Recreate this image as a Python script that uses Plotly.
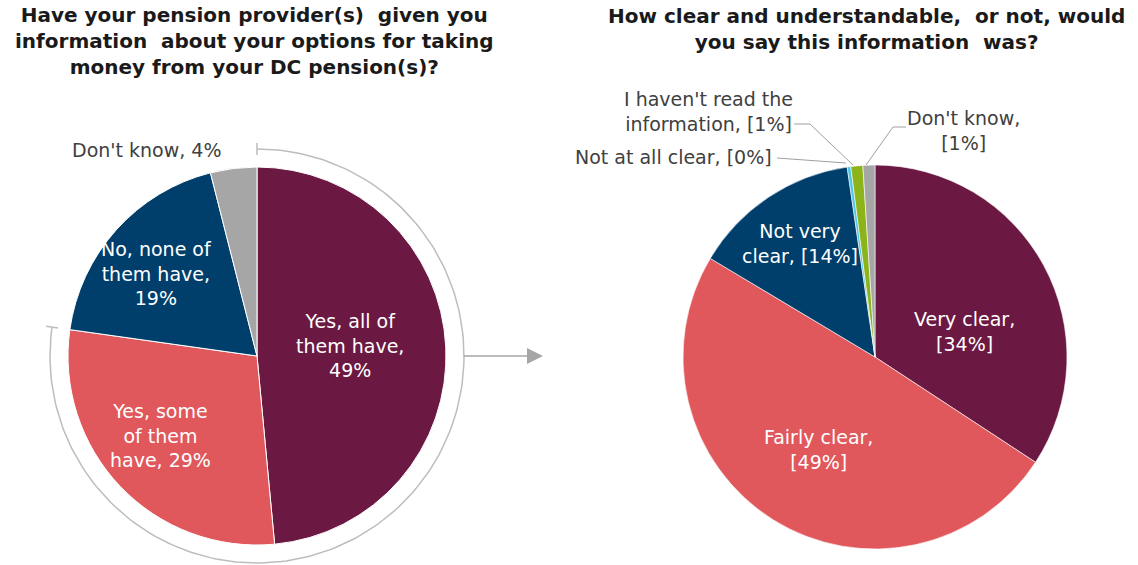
import numpy as np
import plotly.graph_objects as go

# Left question: was information provided
left_labels = ["Yes, all of<br>them have,", "Yes, some<br>of them<br>have,", "No, none of<br>them have,", "Don't know,"]
left_values = [49, 29, 19, 4]
# Right question: clarity of the information
right_labels = ["Very clear,", "Fairly clear,", "Not very<br>clear,", "Not at all clear,",
                "I haven't read the<br>information,", "Don't know,"]
right_values = [34, 49, 14, 0.3, 1, 1]

left_colors = ["#6B1942", "#E0585C", "#003F6C", "#A6A6A6"]
right_colors = ["#6B1942", "#E0585C", "#003F6C", "#4FC6E6", "#8DB31A", "#A6A6A6"]

W, H = 1138, 565
LCX, LCY, LR = 257, 356, 189
RCX, RCY, RR = 875, 357, 192


def dom(cx, cy, r):
    return dict(x=[(cx - r) / W, (cx + r) / W], y=[1 - (cy + r) / H, 1 - (cy - r) / H])


fig = go.Figure()
fig.add_trace(go.Pie(values=left_values, labels=["a", "b", "c", "d"], sort=False, direction="clockwise",
                     rotation=0, domain=dom(LCX, LCY, LR), textinfo="none", hoverinfo="skip",
                     marker=dict(colors=left_colors, line=dict(color="white", width=1)), showlegend=False))
fig.add_trace(go.Pie(values=right_values, labels=["a", "b", "c", "d", "e", "f"], sort=False, direction="clockwise",
                     rotation=0, domain=dom(RCX, RCY, RR), textinfo="none", hoverinfo="skip",
                     marker=dict(colors=right_colors, line=dict(color="white", width=0.6)), showlegend=False))

# Bracket arc around the "yes" answers of the left pie
grey = "#A6A6A6"
AR = 207
frac = (left_values[0] + left_values[1]) / sum(left_values)
ang = np.linspace(0, frac * 2 * np.pi, 200)
fig.add_trace(go.Scatter(x=LCX + AR * np.sin(ang), y=LCY - AR * np.cos(ang), mode="lines",
                         line=dict(color="#BDBDBD", width=1.5), hoverinfo="skip", showlegend=False))
for a in [0, frac * 2 * np.pi]:
    fig.add_shape(type="line", xref="x", yref="y",
                  x0=LCX + (AR - 6) * np.sin(a), y0=LCY - (AR - 6) * np.cos(a),
                  x1=LCX + (AR + 6) * np.sin(a), y1=LCY - (AR + 6) * np.cos(a),
                  line=dict(color="#BDBDBD", width=1.5))
# Arrow pointing to the right-hand chart
fig.add_shape(type="line", xref="x", yref="y", x0=LCX + AR, y0=LCY, x1=530, y1=LCY,
              line=dict(color=grey, width=1.5))
fig.add_shape(type="path", xref="x", yref="y", path=f"M 527 {LCY-8} L 543 {LCY} L 527 {LCY+8} Z",
              fillcolor=grey, line=dict(color=grey, width=0))

# Leader lines for the small right-hand slices
lead = dict(color="#A0A0A0", width=1)
fig.add_shape(type="path", xref="x", yref="y", path="M 777 158 L 846 163", line=lead)
fig.add_shape(type="path", xref="x", yref="y", path="M 794 124 L 810 124 L 853 165", line=lead)
fig.add_shape(type="path", xref="x", yref="y", path="M 906 127 L 893 127 L 866 165", line=lead)

fig.update_xaxes(range=[0, W], visible=False, fixedrange=True)
fig.update_yaxes(range=[H, 0], visible=False, fixedrange=True)

lab_font = dict(family="DejaVu Sans", size=19)
white = dict(lab_font, color="white")
dark = dict(lab_font, color="#404040")


def pct(v):
    return f"{round(v)}%"


annos = [
    (350, 345, f"{left_labels[0]}<br>{pct(left_values[0])}", white),
    (160, 435, f"{left_labels[1]} {pct(left_values[1])}", white),
    (156, 273, f"{left_labels[2]}<br>{pct(left_values[2])}", white),
    (146, 150, f"{left_labels[3]} {pct(left_values[3])}", dark),
    (964, 331, f"{right_labels[0]}<br>[{pct(right_values[0])}]", white),
    (818, 449, f"{right_labels[1]}<br>[{pct(right_values[1])}]", white),
    (800, 243, f"{right_labels[2]} [{pct(right_values[2])}]", white),
    (673, 157, f"{right_labels[3]} [{pct(right_values[3])}]", dark),
    (708, 111, f"{right_labels[4]} [{pct(right_values[4])}]", dark),
    (963, 130, f"{right_labels[5]}<br>[{pct(right_values[5])}]", dark),
]
annotations = [dict(x=x, y=y, xref="x", yref="y", text=t, font=f, showarrow=False,
                    xanchor="center", yanchor="middle", align="center") for x, y, t, f in annos]

title_font = dict(family="DejaVu Sans", size=20, color="#1A1A1A", weight="bold")
annotations.append(dict(x=254, y=41, xref="x", yref="y", showarrow=False, xanchor="center", yanchor="middle",
                        align="center", font=title_font,
                        text="Have your pension provider(s)  given you<br>information  about your options for taking<br>money from your DC pension(s)?"))
annotations.append(dict(x=866, y=29, xref="x", yref="y", showarrow=False, xanchor="center", yanchor="middle",
                        align="center", font=title_font,
                        text="How clear and understandable,  or not, would<br>you say this information  was?"))

fig.update_layout(width=W, height=H, margin=dict(l=0, r=0, t=0, b=0), paper_bgcolor="white",
                  plot_bgcolor="white", annotations=annotations)
fig.write_html("out.html")
